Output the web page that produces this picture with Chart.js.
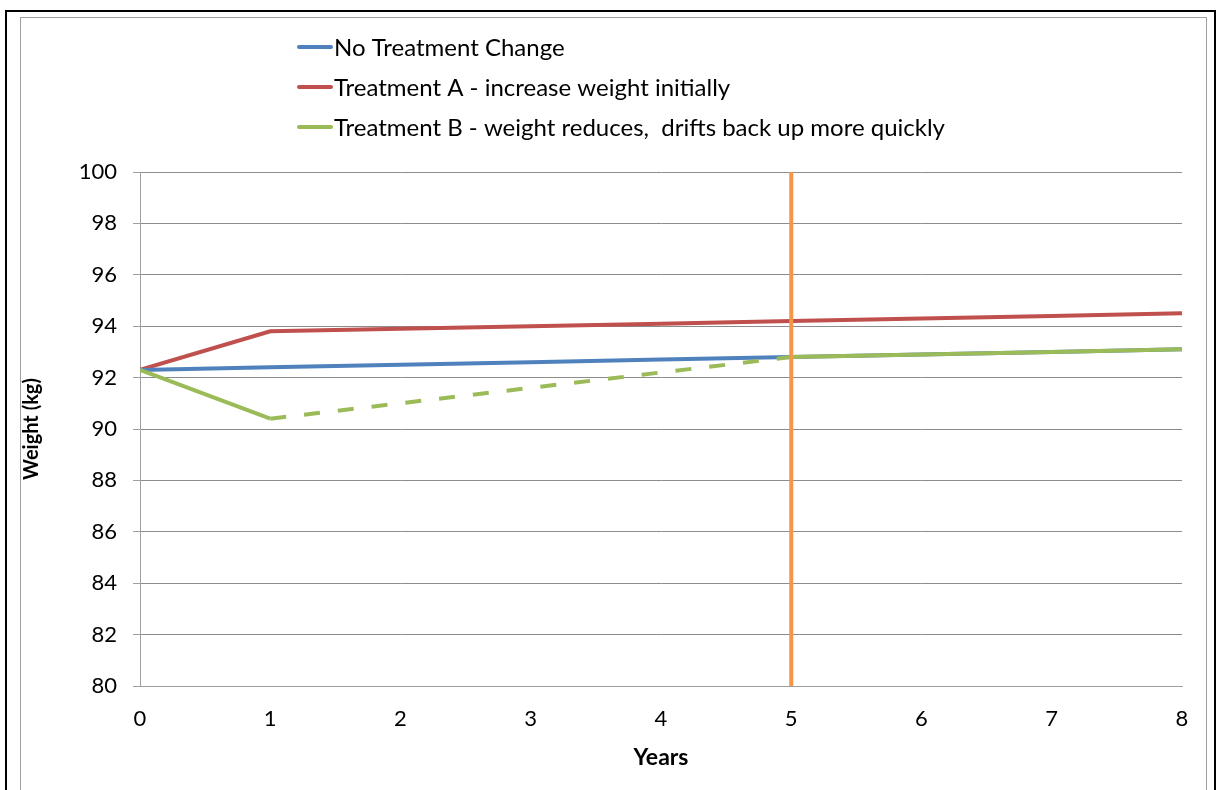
<!DOCTYPE html>
<html>
<head>
<meta charset="utf-8">
<script src="https://cdn.jsdelivr.net/npm/chart.js@4.4.1/dist/chart.umd.min.js"></script>
<style>
  html, body { margin: 0; padding: 0; background: #fff; }
  #wrap { position: relative; width: 1221px; height: 790px; }
  #outer { position: absolute; left: 5px; top: 10px; width: 1207px; height: 800px; border: 2px solid #000; pointer-events: none; }
  #inner { position: absolute; left: 20px; top: 17px; width: 1185px; height: 800px; border: 1px solid #a0a0a0; pointer-events: none; }
</style>
</head>
<body>
<div id="wrap">
  <canvas id="weightChart" width="1221" height="790"></canvas>
  <div id="outer"></div>
  <div id="inner"></div>
</div>
<script>
const years = [0, 1, 2, 3, 4, 5, 6, 7, 8];
const noChange = [92.3, 92.4, 92.5, 92.6, 92.7, 92.8, 92.9, 93.0, 93.1];
const treatmentA = [92.3, 93.8, 93.9, 94.0, 94.1, 94.2, 94.3, 94.4, 94.5];
const treatmentB = [92.3, 90.4, 91.0, 91.6, 92.2, 92.8, 92.9, 93.0, 93.1];
const markerYear = 5;
const yTicks = [80, 82, 84, 86, 88, 90, 92, 94, 96, 98, 100];

const seriesLabels = [
    'No Treatment Change',
    'Treatment A - increase weight initially',
    'Treatment B - weight reduces,  drifts back up more quickly'
];

const toPoints = (vals) => vals.map((v, i) => ({ x: years[i], y: v }));

// legend drawn as a plain stacked list above the plot
const stackedLegend = {
    id: 'stackedLegend',
    afterDraw(chart) {
        const ctx = chart.ctx;
        ctx.save();
        ctx.font = '24px Lato';
        ctx.textBaseline = 'middle';
        ctx.fillStyle = '#000';
        chart.data.datasets.forEach((ds, i) => {
            if (!ds.inLegend) return;
            const y = 47 + i * 40;
            ctx.strokeStyle = ds.borderColor;
            ctx.lineWidth = 4;
            ctx.lineCap = 'round';
            ctx.beginPath();
            ctx.moveTo(299, y);
            ctx.lineTo(331, y);
            ctx.stroke();
            ctx.fillText(ds.label, 334, y + 1);
        });
        ctx.restore();
    }
};

const ctx = document.getElementById('weightChart').getContext('2d');
new Chart(ctx, {
    type: 'line',
    data: {
        datasets: [
            { label: seriesLabels[0], data: toPoints(noChange), borderColor: '#4F81BD', borderWidth: 4, pointRadius: 0, order: 2, inLegend: true },
            { label: seriesLabels[1], data: toPoints(treatmentA), borderColor: '#C0504D', borderWidth: 4, pointRadius: 0, order: 3, inLegend: true },
            {
                label: seriesLabels[2], data: toPoints(treatmentB), borderColor: '#9BBB59', borderWidth: 4, pointRadius: 0, order: 1, inLegend: true,
                segment: {
                    borderDash: c => (c.p0.parsed.x >= 1 && c.p1.parsed.x <= markerYear) ? [16, 18] : undefined
                }
            },
            { label: 'marker', data: [{ x: markerYear, y: yTicks[0] }, { x: markerYear, y: yTicks[yTicks.length - 1] }], borderColor: '#F79646', borderWidth: 4, pointRadius: 0, order: 0 }
        ]
    },
    options: {
        responsive: false,
        animation: false,
        layout: { padding: { top: 172, right: 39, left: 0, bottom: 0 } },
        plugins: { legend: { display: false }, tooltip: { enabled: false } },
        elements: { line: { tension: 0, borderCapStyle: 'butt' } },
        scales: {
            x: {
                type: 'linear', min: 0, max: 8,
                afterFit: s => { s.height = 104; },
                grid: { display: false, drawOnChartArea: false, drawTicks: true, tickLength: 7, tickColor: '#a0a0a0' },
                border: { color: '#a0a0a0', width: 1 },
                ticks: { stepSize: 1, color: '#000', font: { family: 'Lato', size: 22 }, padding: 13, maxRotation: 0 },
                title: { display: true, text: 'Years', color: '#000', font: { family: 'Lato', size: 23, weight: 'bold' }, padding: { top: 0, bottom: 19 } }
            },
            y: {
                min: 80, max: 100,
                afterFit: s => { s.width = 140; },
                afterBuildTicks: s => { s.ticks = yTicks.map(v => ({ value: v })); },
                grid: { color: '#8c8c8c', lineWidth: 1, tickLength: 7, tickColor: '#a0a0a0' },
                border: { color: '#a0a0a0', width: 1 },
                ticks: { color: '#000', font: { family: 'Lato', size: 22 }, padding: 16 },
                title: { display: true, text: 'Weight (kg)', color: '#000', font: { family: 'Lato', size: 20, weight: 'bold' }, padding: { top: 20, bottom: 0 } }
            }
        }
    },
    plugins: [stackedLegend]
});
</script>
</body>
</html>
